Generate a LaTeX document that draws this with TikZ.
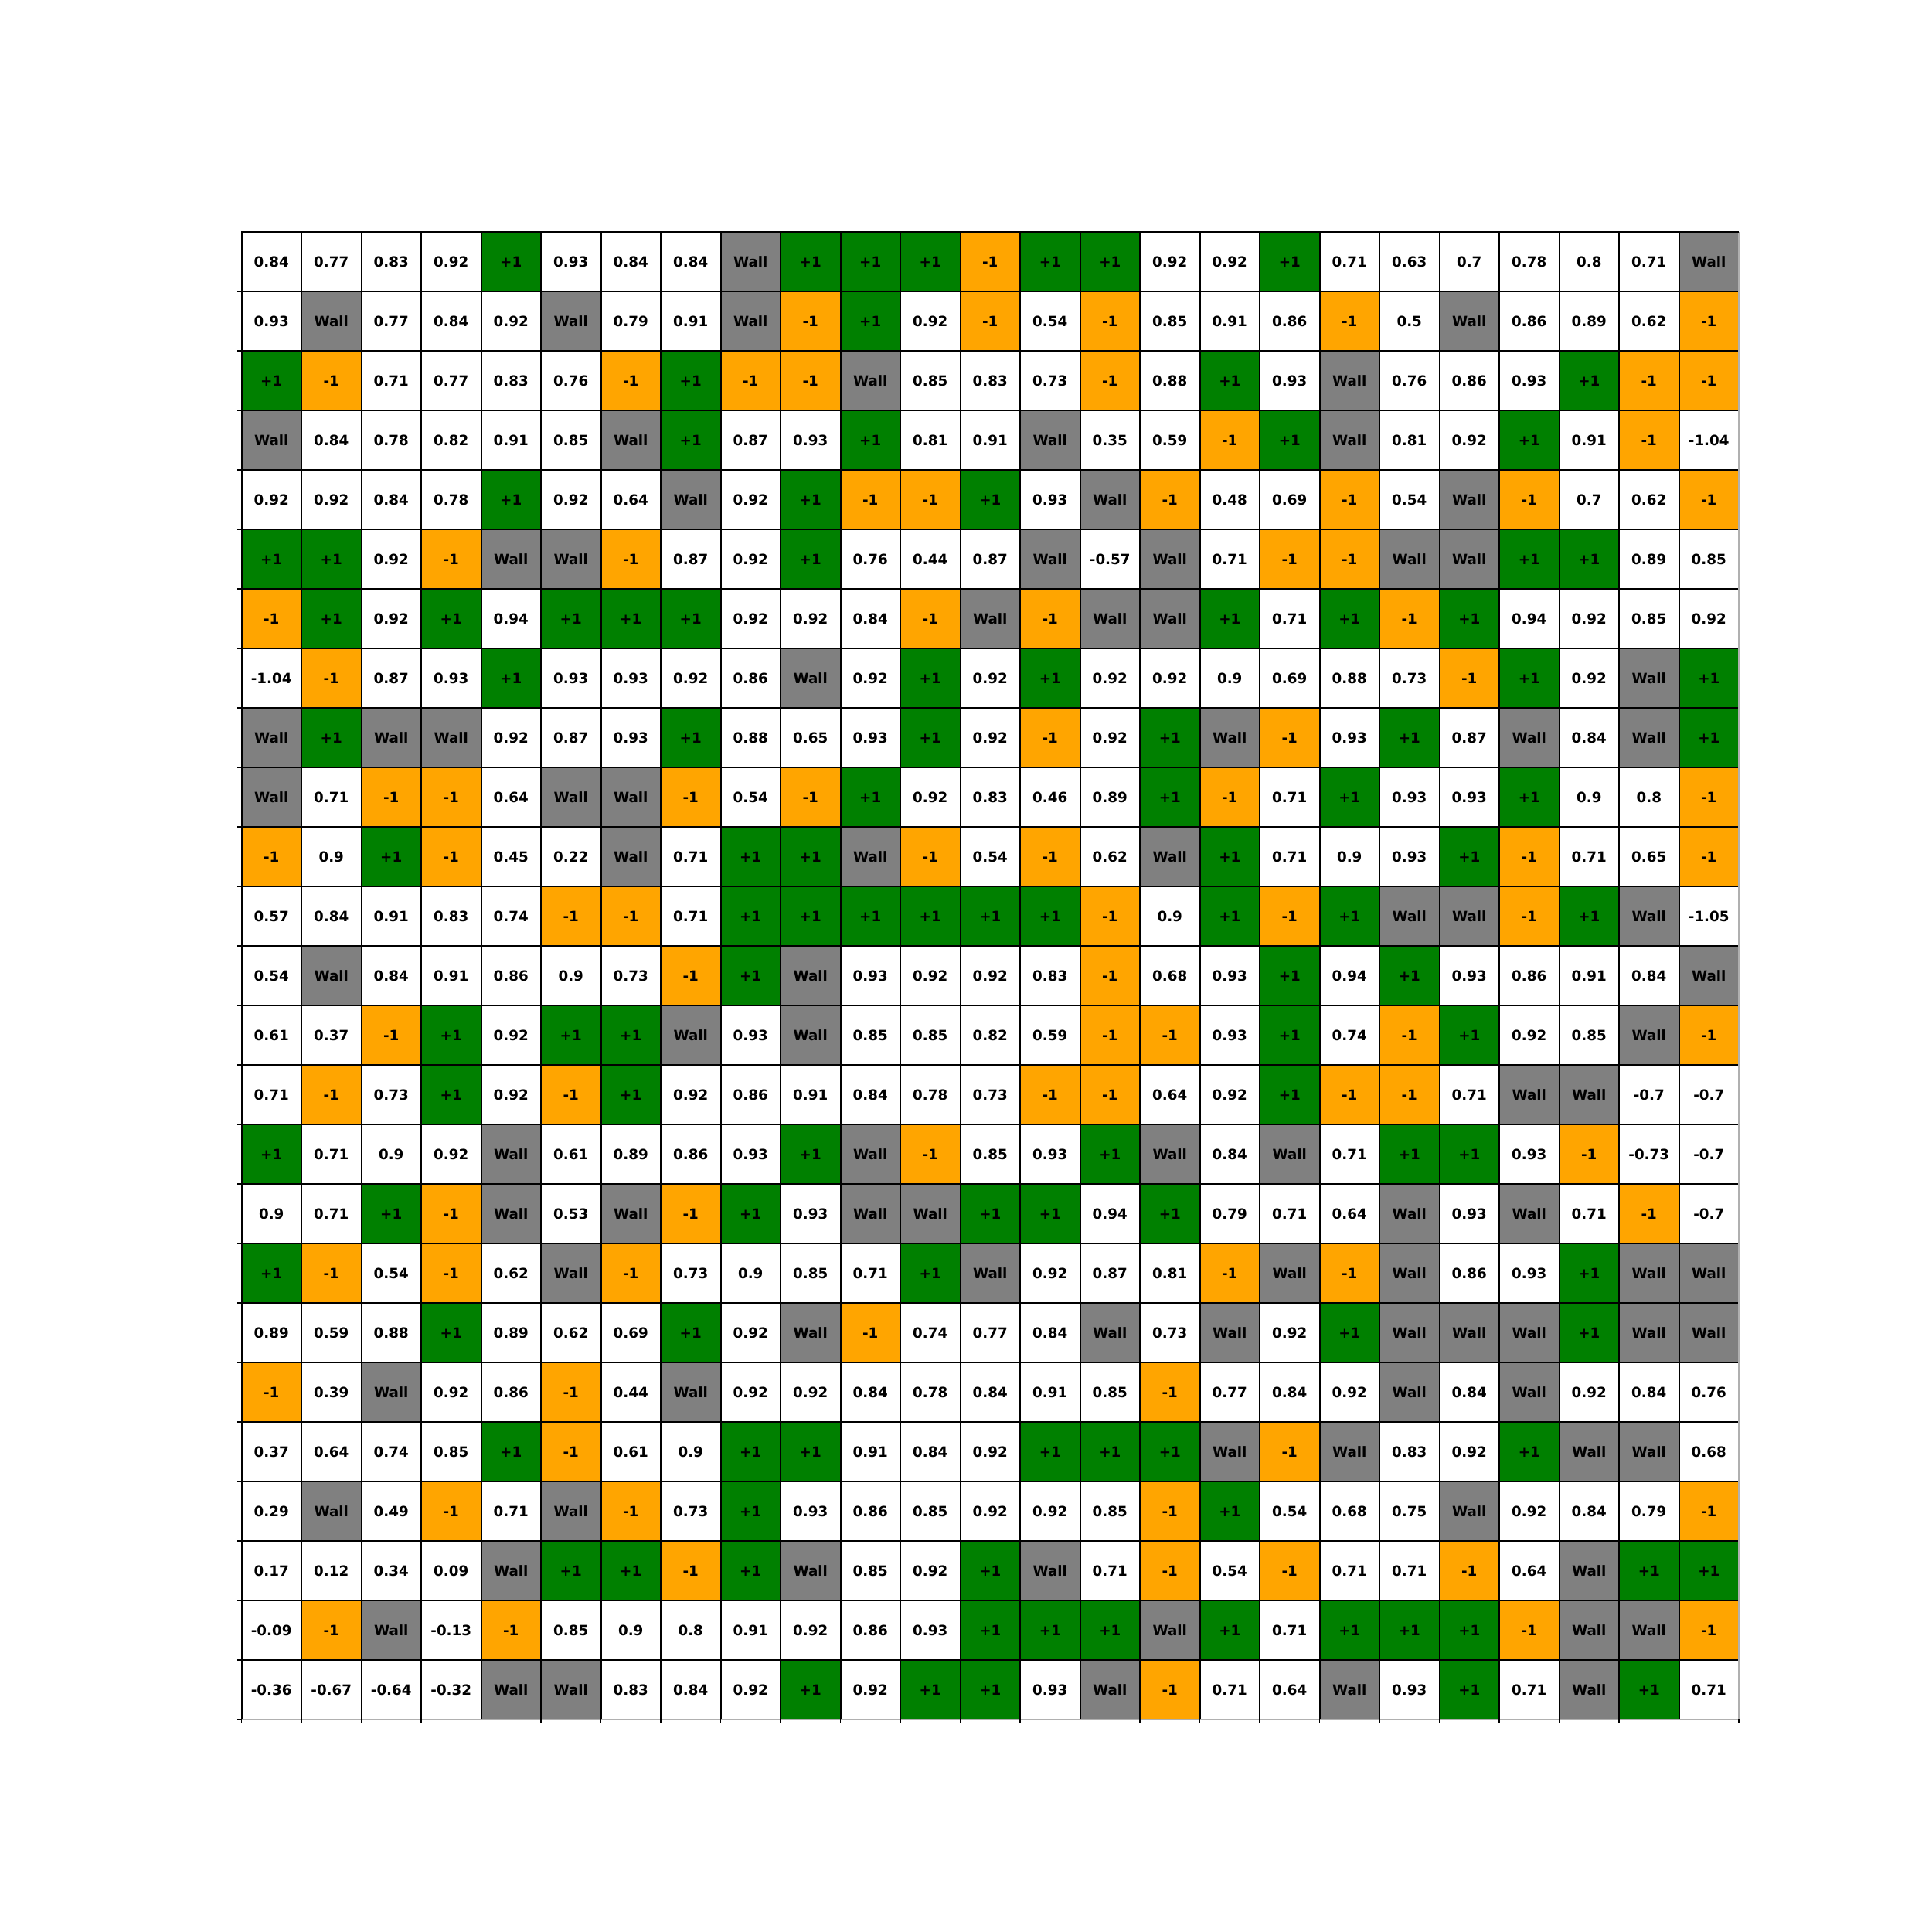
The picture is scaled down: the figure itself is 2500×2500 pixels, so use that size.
\documentclass[tikz,border=0pt]{standalone}
\usepackage{fontspec}
\setmainfont{DejaVu Sans}
\usepackage{ifthen}
\definecolor{cgreen}{HTML}{008000}
\definecolor{corange}{HTML}{FFA500}
\definecolor{cgray}{HTML}{808080}
\definecolor{edgegray}{HTML}{B0B0B0}
\tikzset{
  cellbox/.style={draw=none, minimum width=7.75mm, minimum height=7.7mm, inner sep=0pt, outer sep=0pt,
    font=\fontsize{5.2pt}{6pt}\selectfont\bfseries, text=black},
  gridline/.style={draw=black, line width=0.2mm},
  outerline/.style={draw=edgegray, line width=0.12mm},
  tickline/.style={draw=black, line width=0.12mm}
}
\begin{document}
\begin{tikzpicture}[x=0.1mm,y=-0.1mm]
\useasboundingbox (0,0) rectangle (2500,2500);
\fill[white] (0,0) rectangle (2500,2500);
\foreach \row [count=\rr from 0] in {%
{0.84,0.77,0.83,0.92,+1,0.93,0.84,0.84,Wall,+1,+1,+1,-1,+1,+1,0.92,0.92,+1,0.71,0.63,0.7,0.78,0.8,0.71,Wall},%
{0.93,Wall,0.77,0.84,0.92,Wall,0.79,0.91,Wall,-1,+1,0.92,-1,0.54,-1,0.85,0.91,0.86,-1,0.5,Wall,0.86,0.89,0.62,-1},%
{+1,-1,0.71,0.77,0.83,0.76,-1,+1,-1,-1,Wall,0.85,0.83,0.73,-1,0.88,+1,0.93,Wall,0.76,0.86,0.93,+1,-1,-1},%
{Wall,0.84,0.78,0.82,0.91,0.85,Wall,+1,0.87,0.93,+1,0.81,0.91,Wall,0.35,0.59,-1,+1,Wall,0.81,0.92,+1,0.91,-1,-1.04},%
{0.92,0.92,0.84,0.78,+1,0.92,0.64,Wall,0.92,+1,-1,-1,+1,0.93,Wall,-1,0.48,0.69,-1,0.54,Wall,-1,0.7,0.62,-1},%
{+1,+1,0.92,-1,Wall,Wall,-1,0.87,0.92,+1,0.76,0.44,0.87,Wall,-0.57,Wall,0.71,-1,-1,Wall,Wall,+1,+1,0.89,0.85},%
{-1,+1,0.92,+1,0.94,+1,+1,+1,0.92,0.92,0.84,-1,Wall,-1,Wall,Wall,+1,0.71,+1,-1,+1,0.94,0.92,0.85,0.92},%
{-1.04,-1,0.87,0.93,+1,0.93,0.93,0.92,0.86,Wall,0.92,+1,0.92,+1,0.92,0.92,0.9,0.69,0.88,0.73,-1,+1,0.92,Wall,+1},%
{Wall,+1,Wall,Wall,0.92,0.87,0.93,+1,0.88,0.65,0.93,+1,0.92,-1,0.92,+1,Wall,-1,0.93,+1,0.87,Wall,0.84,Wall,+1},%
{Wall,0.71,-1,-1,0.64,Wall,Wall,-1,0.54,-1,+1,0.92,0.83,0.46,0.89,+1,-1,0.71,+1,0.93,0.93,+1,0.9,0.8,-1},%
{-1,0.9,+1,-1,0.45,0.22,Wall,0.71,+1,+1,Wall,-1,0.54,-1,0.62,Wall,+1,0.71,0.9,0.93,+1,-1,0.71,0.65,-1},%
{0.57,0.84,0.91,0.83,0.74,-1,-1,0.71,+1,+1,+1,+1,+1,+1,-1,0.9,+1,-1,+1,Wall,Wall,-1,+1,Wall,-1.05},%
{0.54,Wall,0.84,0.91,0.86,0.9,0.73,-1,+1,Wall,0.93,0.92,0.92,0.83,-1,0.68,0.93,+1,0.94,+1,0.93,0.86,0.91,0.84,Wall},%
{0.61,0.37,-1,+1,0.92,+1,+1,Wall,0.93,Wall,0.85,0.85,0.82,0.59,-1,-1,0.93,+1,0.74,-1,+1,0.92,0.85,Wall,-1},%
{0.71,-1,0.73,+1,0.92,-1,+1,0.92,0.86,0.91,0.84,0.78,0.73,-1,-1,0.64,0.92,+1,-1,-1,0.71,Wall,Wall,-0.7,-0.7},%
{+1,0.71,0.9,0.92,Wall,0.61,0.89,0.86,0.93,+1,Wall,-1,0.85,0.93,+1,Wall,0.84,Wall,0.71,+1,+1,0.93,-1,-0.73,-0.7},%
{0.9,0.71,+1,-1,Wall,0.53,Wall,-1,+1,0.93,Wall,Wall,+1,+1,0.94,+1,0.79,0.71,0.64,Wall,0.93,Wall,0.71,-1,-0.7},%
{+1,-1,0.54,-1,0.62,Wall,-1,0.73,0.9,0.85,0.71,+1,Wall,0.92,0.87,0.81,-1,Wall,-1,Wall,0.86,0.93,+1,Wall,Wall},%
{0.89,0.59,0.88,+1,0.89,0.62,0.69,+1,0.92,Wall,-1,0.74,0.77,0.84,Wall,0.73,Wall,0.92,+1,Wall,Wall,Wall,+1,Wall,Wall},%
{-1,0.39,Wall,0.92,0.86,-1,0.44,Wall,0.92,0.92,0.84,0.78,0.84,0.91,0.85,-1,0.77,0.84,0.92,Wall,0.84,Wall,0.92,0.84,0.76},%
{0.37,0.64,0.74,0.85,+1,-1,0.61,0.9,+1,+1,0.91,0.84,0.92,+1,+1,+1,Wall,-1,Wall,0.83,0.92,+1,Wall,Wall,0.68},%
{0.29,Wall,0.49,-1,0.71,Wall,-1,0.73,+1,0.93,0.86,0.85,0.92,0.92,0.85,-1,+1,0.54,0.68,0.75,Wall,0.92,0.84,0.79,-1},%
{0.17,0.12,0.34,0.09,Wall,+1,+1,-1,+1,Wall,0.85,0.92,+1,Wall,0.71,-1,0.54,-1,0.71,0.71,-1,0.64,Wall,+1,+1},%
{-0.09,-1,Wall,-0.13,-1,0.85,0.9,0.8,0.91,0.92,0.86,0.93,+1,+1,+1,Wall,+1,0.71,+1,+1,+1,-1,Wall,Wall,-1},%
{-0.36,-0.67,-0.64,-0.32,Wall,Wall,0.83,0.84,0.92,+1,0.92,+1,+1,0.93,Wall,-1,0.71,0.64,Wall,0.93,+1,0.71,Wall,+1,0.71}%
} {
  \foreach \v [count=\cc from 0] in \row {
    \ifthenelse{\equal{\v}{Wall}}{\def\cf{cgray}}{%
      \ifthenelse{\equal{\v}{+1}}{\def\cf{cgreen}}{%
        \ifthenelse{\equal{\v}{-1}}{\def\cf{corange}}{\def\cf{white}}}}%
    \node[cellbox, fill=\cf] (cell-\rr-\cc) at ({351.25+77.5*\cc},{338.5+77*\rr}) {\v};
  }
}
% grid lines
\foreach \k in {0,...,24} {
  \draw[gridline] (312.5,{300+77*\k}) -- (2250,{300+77*\k});
  \draw[gridline] ({312.5+77.5*\k},300) -- ({312.5+77.5*\k},2225);
}
% outer bottom and right edges
\draw[outerline] (312.5,2225) -- (2250,2225) -- (2250,300);
\draw[gridline] (2250,300) -- (312.5,300) -- (312.5,2225);
% ticks
\foreach \k in {1,...,25} {
  \draw[tickline] (307,{300+77*\k}) -- (312.5,{300+77*\k});
}
\foreach \k in {0,...,25} {
  \draw[tickline] ({312.5+77.5*\k},2225) -- ({312.5+77.5*\k},2230);
}
\end{tikzpicture}
\end{document}
